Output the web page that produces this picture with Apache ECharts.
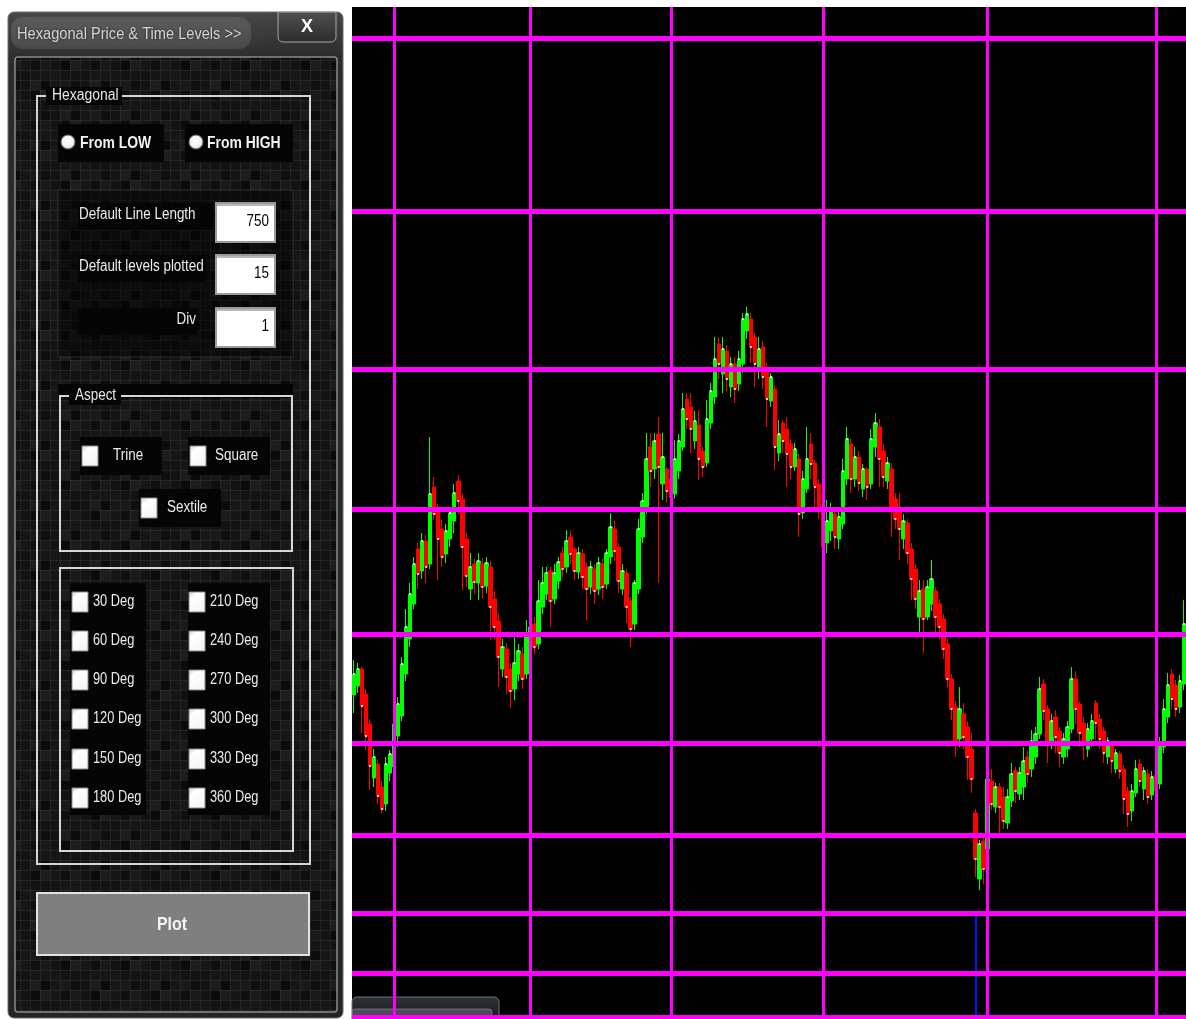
<!DOCTYPE html>
<html><head><meta charset="utf-8">
<script src="https://cdn.jsdelivr.net/npm/echarts@6/dist/echarts.min.js"></script>
<style>html,body{margin:0;padding:0;background:#fff;overflow:hidden}#main{width:1186px;height:1019px}</style>
</head><body><div id="main"></div>
<script>
// ---- DATA ----
// candles: [open, close, low, high] (price units)
const candles = [
[324,345,306,359],[333,350,326,356],[350,313,286,352],[325,283,269,330],[295,253,229,300],
[241,262,232,270],[255,223,215,260],[232,210,206,238],[215,255,208,262],[246,265,238,269],
[252,295,248,300],[283,315,272,322],[303,355,298,362],[345,392,338,410],[380,425,372,436],
[415,455,410,462],[470,445,430,476],[448,478,440,486],[478,452,436,484],[455,525,450,582],
[532,505,499,542],[512,480,439,515],[490,462,452,500],[465,488,456,495],[480,506,472,512],
[498,526,486,535],[538,518,505,544],[520,472,429,525],[480,443,432,486],[430,452,419,466],
[455,437,425,460],[436,458,419,466],[455,432,420,461],[433,456,426,462],[452,412,379,458],
[420,392,380,428],[398,362,332,405],[350,372,342,380],[370,342,325,376],[350,328,311,356],
[330,356,319,382],[345,368,338,375],[365,340,330,372],[345,385,340,399],[372,392,360,400],
[395,372,365,402],[375,418,370,439],[412,436,405,452],[425,446,419,452],[448,418,392,452],
[420,446,415,455],[438,457,430,462],[466,450,442,472],[452,478,446,489],[482,465,455,489],
[470,448,439,472],[447,466,440,472],[465,442,430,470],[452,430,399,456],[432,452,425,458],
[450,428,415,455],[430,456,424,462],[455,432,420,460],[435,466,430,470],[462,492,455,506],
[490,468,458,498],[472,438,426,476],[430,448,424,455],[446,412,396,450],[418,390,372,422],
[395,436,389,439],[430,490,425,500],[482,518,476,526],[510,560,505,586],[572,548,532,586],
[550,578,540,586],[585,552,436,602],[535,562,519,586],[550,528,516,552],[540,522,515,548],
[525,560,520,579],[548,578,540,585],[572,610,568,626],[620,600,590,626],[612,590,566,626],
[578,598,570,608],[594,560,539,609],[568,552,542,572],[556,600,552,619],[596,628,590,636],
[622,660,615,682],[675,655,640,682],[645,670,626,682],[668,640,628,674],[632,655,622,662],
[655,630,616,662],[635,660,628,668],[655,700,646,706],[688,705,680,712],[700,672,656,706],
[682,655,632,686],[648,670,640,682],[672,642,630,678],[650,620,592,656],[618,642,612,646],
[630,572,549,634],[566,585,558,599],[596,578,566,599],[590,565,532,602],[575,552,540,580],
[552,570,548,576],[560,505,482,565],[506,540,500,548],[530,560,526,592],[575,555,540,586],
[556,532,512,559],[535,510,500,540],[512,472,442,522],[476,498,466,519],[488,508,478,516],
[505,482,470,510],[480,502,470,510],[495,548,490,560],[540,580,534,592],[575,540,526,580],
[540,562,532,572],[562,536,528,568],[530,550,522,555],[550,532,519,552],[535,580,530,590],
[572,596,562,606],[592,560,532,600],[568,542,532,575],[538,556,530,562],[550,510,482,556],
[520,500,490,526],[512,490,459,526],[480,498,470,505],[496,466,455,500],[470,440,419,476],
[450,420,410,455],[402,428,382,439],[430,400,366,439],[402,432,399,439],[415,440,408,459],
[428,402,382,432],[415,392,380,420],[400,370,360,405],[375,340,332,380],[340,310,299,345],
[312,276,262,318],[280,310,272,332],[305,282,270,316],[292,262,239,298],[270,240,226,286],
[206,160,142,210],[140,175,129,179],[178,150,135,182],[170,240,162,259],[238,215,209,250],
[212,232,206,236],[232,212,186,236],[222,198,190,232],[196,222,190,230],[218,245,212,256],
[248,228,216,252],[225,246,219,252],[232,258,219,272],[262,245,236,268],[250,278,242,289],
[262,285,255,292],[285,330,280,342],[335,308,299,340],[310,275,256,314],[278,298,270,305],
[302,282,266,309],[288,266,252,292],[262,280,255,286],[270,292,262,298],[290,340,286,352],
[340,310,295,348],[315,286,272,318],[296,276,259,302],[270,290,262,296],[280,298,272,305],
[316,296,279,319],[300,280,270,305],[288,266,256,292],[262,278,255,282],[275,258,246,278],
[250,266,246,270],[265,248,240,268],[250,220,205,254],[228,205,192,232],[208,228,198,235],
[226,250,222,259],[255,238,232,260],[230,248,219,252],[245,222,215,250],[224,242,219,248],
[244,228,222,250],[235,275,230,282],[272,310,266,320],[302,334,296,346],[345,320,310,350],
[334,310,302,339],[312,338,306,344],[335,395,329,419]
];
const priceLevels = [2, 46, 106, 184, 276, 385, 510, 650, 808, 981];
const timeLevels = [10, 44, 79, 117, 158, 200];
const markerBar = 155;
const markerTopPrice = 106;
const priceMin = 0, priceMax = 1012;

const dialogTitle = 'Hexagonal Price & Time Levels >>';
const closeLabel = 'X';
const groupTitle = 'Hexagonal';
const radioLabels = ['From LOW', 'From HIGH'];
const fieldLabels = ['Default Line Length', 'Default levels plotted', 'Div'];
const fieldValues = ['750', '15', '1'];
const aspectTitle = 'Aspect';
const aspectLabels = ['Trine', 'Square', 'Sextile'];
const degLeft = ['30 Deg', '60 Deg', '90 Deg', '120 Deg', '150 Deg', '180 Deg'];
const degRight = ['210 Deg', '240 Deg', '270 Deg', '300 Deg', '330 Deg', '360 Deg'];
const buttonLabel = 'Plot';

// ---- texture for dialog background ----
function makeTile() {
  const c = document.createElement('canvas'); c.width = 120; c.height = 120;
  const g = c.getContext('2d');
  const shades = ['#0b0b0b', '#131313', '#191919', '#0f0f0f', '#161616', '#1d1d1d'];
  for (let i = 0; i < 12; i++) for (let j = 0; j < 12; j++) {
    g.fillStyle = shades[(i * 5 + j * 7 + ((i * j) % 3)) % 6];
    g.fillRect(i * 10, j * 10, 10, 10);
  }
  g.strokeStyle = 'rgba(70,70,70,0.35)'; g.lineWidth = 1;
  for (let k = 0; k <= 12; k++) {
    g.beginPath(); g.moveTo(k * 10 + 0.5, 0); g.lineTo(k * 10 + 0.5, 120); g.stroke();
    g.beginPath(); g.moveTo(0, k * 10 + 0.5); g.lineTo(120, k * 10 + 0.5); g.stroke();
  }
  return c;
}

const F = "'Liberation Sans',Arial,sans-serif";
const els = [];
function rect(x, y, w, h, style, r) {
  els.push({ type: 'rect', shape: { x: x, y: y, width: w, height: h, r: r || 0 }, style: style, silent: true });
}
function txt(x, y, t, opt, sx) {
  const st = Object.assign({ text: t, fill: '#ececec', font: '15px ' + F, align: 'left', verticalAlign: 'middle' }, opt || {});
  st.textAlign = st.align; st.textVerticalAlign = st.verticalAlign;
  els.push({ type: 'text', x: x, y: y, scaleX: sx || 0.87, style: st, silent: true });
}
const BLK = '#050505';
function checkbox(x, y) {
  rect(x, y, 16, 20, { fill: new echarts.graphic.LinearGradient(0, 0, 1, 1, [{ offset: 0, color: '#c8c8c8' }, { offset: 0.25, color: '#ffffff' }, { offset: 1, color: '#f2f2f2' }]), stroke: '#8c8c8c', lineWidth: 1 });
}

// outer dialog frame
rect(8, 12, 335, 1006, { fill: new echarts.graphic.LinearGradient(0, 0, 0, 1, [{ offset: 0, color: '#474747' }, { offset: 0.045, color: '#2c2c2c' }, { offset: 1, color: '#242424' }]), stroke: '#6c6c6c', lineWidth: 1 }, 6);
rect(11, 17, 240, 32, { fill: 'rgba(255,255,255,0.10)', shadowBlur: 14, shadowColor: 'rgba(255,255,255,0.35)' }, 12);
txt(17, 34, dialogTitle, { font: '17px ' + F, fill: '#d4d4d4', textShadowColor: 'rgba(0,0,0,0.6)', textShadowBlur: 3 }, 0.86);
rect(278, 12, 58, 30, { fill: new echarts.graphic.LinearGradient(0, 0, 0, 1, [{ offset: 0, color: '#505050' }, { offset: 1, color: '#2c2c2c' }]), stroke: '#a8a8a8', lineWidth: 1 }, [0, 0, 5, 5]);
txt(307, 27, closeLabel, { font: 'bold 18px ' + F, fill: '#ffffff', align: 'center' }, 1);

// inner textured panel
rect(15, 57, 322, 955, { fill: { image: makeTile(), repeat: 'repeat' }, stroke: '#8a8a8a', lineWidth: 1.5 }, 3);

// Hexagonal group
rect(37, 96, 273, 768, { fill: 'none', stroke: '#d6d6d6', lineWidth: 2 });
rect(46, 87, 76, 18, { fill: BLK });
txt(52, 96, groupTitle, { fill: '#e6e6e6', font: '16px ' + F });

// radios
rect(58, 124, 106, 38, { fill: BLK });
rect(185, 124, 108, 38, { fill: BLK });
[[68, 142, radioLabels[0], 80], [196, 142, radioLabels[1], 207]].forEach(function (r) {
  els.push({ type: 'circle', shape: { cx: r[0], cy: r[1], r: 7 }, style: { fill: new echarts.graphic.RadialGradient(0.45, 0.4, 0.7, [{ offset: 0, color: '#ffffff' }, { offset: 0.6, color: '#eeeeee' }, { offset: 1, color: '#9a9a9a' }]), stroke: '#6a6a6a', lineWidth: 1 }, silent: true });
  txt(r[3], r[1] + 1, r[2], { font: 'bold 17px ' + F, fill: '#f2f2f2' }, 0.82);
});

// fields block
rect(58, 190, 235, 167, { fill: 'rgba(0,0,0,0.45)', stroke: 'rgba(70,70,70,0.6)', lineWidth: 1 });
const fieldRows = [[203, 135, 215, 222], [255, 128, 267, 274], [308, 120, 320, 327]];
fieldRows.forEach(function (f, k) {
  rect(78, f[0], f[1], 27, { fill: BLK });
  if (k < 2) txt(79, f[2], fieldLabels[k], { fill: '#ececec', font: '16px ' + F }, 0.84);
  else txt(196, f[2], fieldLabels[k], { fill: '#ececec', align: 'right', font: '16px ' + F }, 0.84);
  rect(216, f[0], 59, 39, { fill: '#ffffff', stroke: '#9a9a9a', lineWidth: 2 });
  rect(217, f[0] + 1, 57, 2, { fill: '#b8b8b8' });
  txt(269, f[3], fieldValues[k], { fill: '#000000', align: 'right', font: '16px ' + F }, 0.84);
});

// Aspect group
rect(58, 384, 235, 14, { fill: BLK });
rect(60, 396, 232, 155, { fill: 'none', stroke: '#d6d6d6', lineWidth: 2 });
rect(69, 387, 52, 18, { fill: BLK });
txt(75, 396, aspectTitle, { fill: '#e6e6e6', font: '16px ' + F }, 0.84);
const aspectPos = [[80, 437, 82, 113], [188, 437, 82, 215], [139, 489, 82, 167]];
aspectPos.forEach(function (a, k) {
  rect(a[0], a[1], a[2], 38, { fill: BLK });
  checkbox(a[0] + 2, a[1] + 9);
  txt(a[3], a[1] + 19, aspectLabels[k], { fill: '#ececec', font: '16px ' + F }, 0.84);
});

// Degree group
rect(60, 568, 233, 283, { fill: 'none', stroke: '#d6d6d6', lineWidth: 2 });
rect(70, 583, 76, 232, { fill: BLK });
rect(188, 583, 82, 232, { fill: BLK });
const degRowsY = [602, 641, 680, 719, 759, 798];
degRowsY.forEach(function (y, k) {
  checkbox(72, y - 10); txt(93, y, degLeft[k], { fill: '#ececec', font: '16px ' + F }, 0.8);
  checkbox(189, y - 10); txt(210, y, degRight[k], { fill: '#ececec', font: '16px ' + F }, 0.8);
});

// Plot button
rect(37, 893, 272, 62, { fill: '#7f7f7f', stroke: '#e2e2e2', lineWidth: 2 });
txt(172, 925, buttonLabel, { font: 'bold 19px ' + F, fill: '#f4f4f4', align: 'center' }, 0.84);

// small window fragment bottom-left of chart
rect(352, 997, 147, 24, { fill: new echarts.graphic.LinearGradient(0, 0, 0, 1, [{ offset: 0, color: 'rgba(50,54,58,0.95)' }, { offset: 1, color: 'rgba(20,22,24,0.95)' }]), stroke: '#6d7074', lineWidth: 1 }, [5, 5, 0, 0]);
rect(352, 1009, 140, 12, { fill: 'rgba(95,88,105,0.75)', stroke: 'rgba(150,150,160,0.6)', lineWidth: 1 }, [3, 3, 0, 0]);

// ---- marks ----
const MAG = '#ff00ff';
const markData = [];
markData.push([{ coord: [markerBar, markerTopPrice], lineStyle: { color: '#1010ff', width: 2, type: 'solid' } }, { coord: [markerBar, priceMin] }]);
timeLevels.forEach(function (t) { markData.push({ xAxis: t, lineStyle: { color: MAG, width: 3, type: 'solid' } }); });
priceLevels.forEach(function (p) { markData.push({ yAxis: p, lineStyle: { color: MAG, width: 5, type: 'solid' } }); });

// close ticks (small white marks at each candle's close)
const closeMarks = candles.map(function (c, i) { return [i, c[1]]; });

const chart = echarts.init(document.getElementById('main'), null, { renderer: 'canvas' });
chart.setOption({
  animation: false,
  backgroundColor: '#ffffff',
  grid: { left: 352, top: 7, right: 0, bottom: 0, show: true, backgroundColor: '#000000', borderWidth: 0 },
  xAxis: { type: 'category', boundaryGap: true, show: false },
  yAxis: { type: 'value', min: priceMin, max: priceMax, show: false, splitLine: { show: false } },
  series: [
    { type: 'candlestick', data: candles, barWidth: 4, z: 2,
      itemStyle: { color: '#00ff00', color0: '#ff0000', borderColor: '#00ff00', borderColor0: '#ff0000', borderWidth: 1 } },
    { type: 'scatter', data: closeMarks, symbol: 'rect', symbolSize: [2, 2], z: 3, silent: true,
      itemStyle: { color: '#ffffff', opacity: 0.85 } },
    { type: 'line', data: [], z: 5, symbol: 'none',
      markLine: { silent: true, symbol: ['none', 'none'], label: { show: false }, animation: false, data: markData } }
  ],
  graphic: { elements: els }
});
</script>
</body></html>
